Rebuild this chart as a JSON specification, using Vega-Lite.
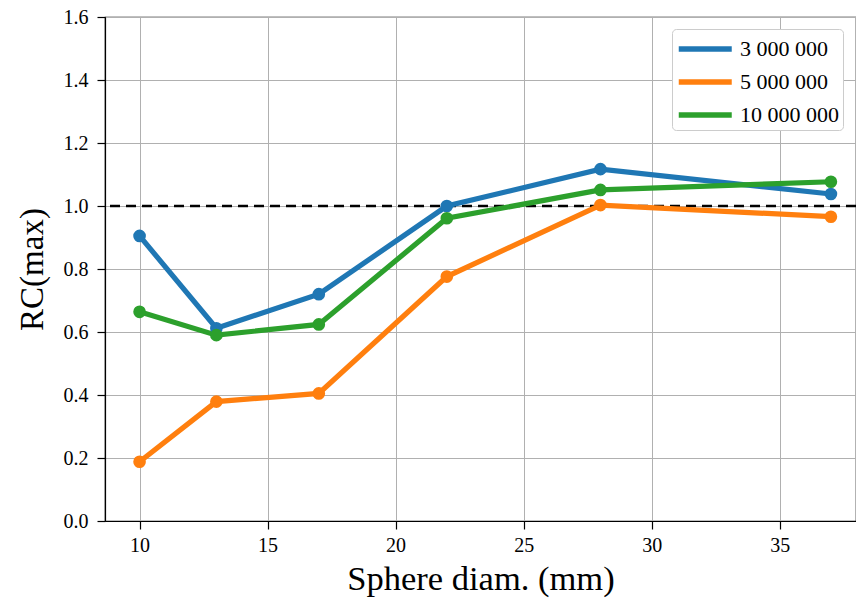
{
  "$schema": "https://vega.github.io/schema/vega-lite/v6.json",
  "width": 751,
  "height": 504,
  "autosize": {"type": "none"},
  "padding": {"left": 105, "top": 17, "right": 0, "bottom": 81},
  "background": "white",
  "config": {
    "font": "Liberation Serif",
    "view": {"stroke": "black", "strokeWidth": 1.2},
    "axis": {
      "labelFont": "Liberation Serif",
      "titleFont": "Liberation Serif",
      "labelFontSize": 20,
      "labelColor": "black",
      "titleFontSize": 33,
      "titleFontWeight": "normal",
      "titleColor": "black",
      "domainColor": "black",
      "domainWidth": 1.2,
      "tickColor": "black",
      "tickWidth": 1.2,
      "tickSize": 8,
      "labelPadding": 6,
      "gridColor": "#b0b0b0",
      "gridWidth": 1
    },
    "legend": {"labelFont": "Liberation Serif"}
  },
  "datasets": {
    "series": [
      {"d": 10, "rc": 0.905, "counts": "3 000 000"},
      {"d": 13, "rc": 0.612, "counts": "3 000 000"},
      {"d": 17, "rc": 0.72, "counts": "3 000 000"},
      {"d": 22, "rc": 1.0, "counts": "3 000 000"},
      {"d": 28, "rc": 1.117, "counts": "3 000 000"},
      {"d": 37, "rc": 1.038, "counts": "3 000 000"},
      {"d": 10, "rc": 0.188, "counts": "5 000 000"},
      {"d": 13, "rc": 0.379, "counts": "5 000 000"},
      {"d": 17, "rc": 0.405, "counts": "5 000 000"},
      {"d": 22, "rc": 0.776, "counts": "5 000 000"},
      {"d": 28, "rc": 1.003, "counts": "5 000 000"},
      {"d": 37, "rc": 0.966, "counts": "5 000 000"},
      {"d": 10, "rc": 0.664, "counts": "10 000 000"},
      {"d": 13, "rc": 0.59, "counts": "10 000 000"},
      {"d": 17, "rc": 0.624, "counts": "10 000 000"},
      {"d": 22, "rc": 0.961, "counts": "10 000 000"},
      {"d": 28, "rc": 1.051, "counts": "10 000 000"},
      {"d": 37, "rc": 1.077, "counts": "10 000 000"}
    ],
    "ref": [{"y": 1.0}]
  },
  "layer": [
    {
      "data": {"name": "ref"},
      "mark": {"type": "rule", "color": "black", "strokeWidth": 2.6, "strokeDash": [10, 6]},
      "encoding": {"y": {"field": "y", "type": "quantitative", "scale": {"domain": [0, 1.6]}}}
    },
    {
      "data": {"name": "series"},
      "mark": {"type": "line", "strokeWidth": 5.2, "point": {"filled": true, "size": 160, "opacity": 1}},
      "encoding": {
        "x": {
          "field": "d", "type": "quantitative",
          "scale": {"domain": [8.65, 37.98], "nice": false, "zero": false},
          "axis": {"values": [10, 15, 20, 25, 30, 35], "title": "Sphere diam. (mm)", "titleFontSize": 34.5, "labelFont": "Liberation Serif", "titleFont": "Liberation Serif", "titlePadding": 7, "grid": true}
        },
        "y": {
          "field": "rc", "type": "quantitative",
          "scale": {"domain": [0, 1.6], "nice": false},
          "axis": {"values": [0, 0.2, 0.4, 0.6, 0.8, 1.0, 1.2, 1.4, 1.6], "format": ".1f", "title": "RC(max)", "labelFont": "Liberation Serif", "titleFont": "Liberation Serif", "labelPadding": 9, "titlePadding": 14, "grid": true}
        },
        "color": {
          "field": "counts", "type": "nominal",
          "sort": ["3 000 000", "5 000 000", "10 000 000"],
          "scale": {"domain": ["3 000 000", "5 000 000", "10 000 000"], "range": ["#1f77b4", "#ff7f0e", "#2ca02c"]},
          "legend": {
            "title": null,
            "orient": "none",
            "legendX": 567,
            "legendY": 12,
            "symbolType": "M-1,0H3",
            "symbolStrokeWidth": 5.5,
            "symbolSize": 702,
            "symbolFillColor": "transparent",
            "labelFont": "Liberation Serif",
            "labelFontSize": 22,
            "labelColor": "black",
            "labelOffset": 32,
            "rowPadding": 6,
            "padding": 4,
            "fillColor": "white",
            "strokeColor": "#cccccc",
            "cornerRadius": 4,
            "offset": 0
          }
        }
      }
    }
  ]
}
